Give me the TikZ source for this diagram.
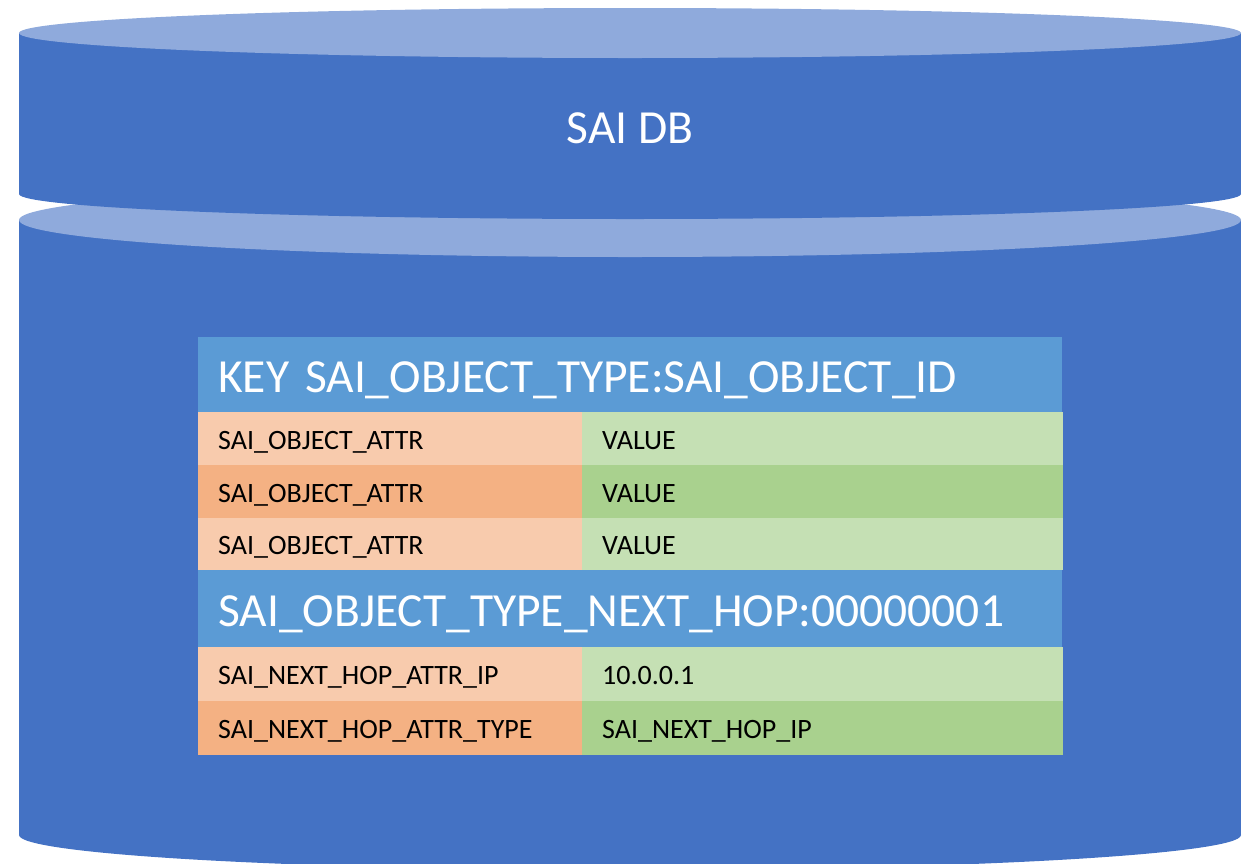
\documentclass[tikz,border=0pt]{standalone}
\usepackage{fontspec}
\setmainfont{Carlito}
\definecolor{cylbody}{HTML}{4472C4}
\definecolor{cyltop}{HTML}{8FAADC}
\definecolor{hdrblue}{HTML}{5B9BD5}
\definecolor{orlight}{HTML}{F8CBAD}
\definecolor{ordark}{HTML}{F4B183}
\definecolor{grlight}{HTML}{C5E0B4}
\definecolor{grdark}{HTML}{A9D18E}
\begin{document}
\begin{tikzpicture}[x=1pt,y=-1pt,
  cell/.style={anchor=north west, inner ysep=0pt, inner xsep=20pt, align=left, font=\fontsize{28}{32}\selectfont, text=black, text height=21pt, text depth=0pt},
  keycell/.style={cell, text width=344pt, minimum width=384pt, minimum height=53pt},
  valcell/.style={cell, text width=441pt, minimum width=481pt, minimum height=53pt},
  hdrcell/.style={cell, fill=hdrblue, text=white, text width=824pt, minimum width=864pt, font=\fontsize{47.5}{52}\selectfont, text height=34.6pt, text depth=0pt}
]
\useasboundingbox (0,0) rectangle (1253,863);
\clip (0,0) rectangle (1253,863);
% lower cylinder
\fill[cylbody] (19,220) rectangle (1241,835);
\fill[cylbody] (630,835) ellipse [x radius=611, y radius=35];
\fill[cyltop] (630,220) ellipse [x radius=611, y radius=37];
% upper cylinder
\fill[cylbody] (19,33) rectangle (1241,194);
\fill[cylbody] (630,194) ellipse [x radius=611, y radius=25];
\fill[cyltop] (630,33) ellipse [x radius=611, y radius=25];
\node[text=white, font=\fontsize{47.5}{52}\selectfont] (title) at (630,128) {SAI DB};
% table
\node[hdrcell, minimum height=75pt] (h1) at (198,337) {KEY SAI\_OBJECT\_TYPE:SAI\_OBJECT\_ID};
\node[keycell, fill=orlight] (k1) at (198,412) {SAI\_OBJECT\_ATTR};
\node[valcell, fill=grlight] (v1) at (582,412) {VALUE};
\node[keycell, fill=ordark] (k2) at (198,465) {SAI\_OBJECT\_ATTR};
\node[valcell, fill=grdark] (v2) at (582,465) {VALUE};
\node[keycell, fill=orlight, minimum height=52pt] (k3) at (198,518) {SAI\_OBJECT\_ATTR};
\node[valcell, fill=grlight, minimum height=52pt] (v3) at (582,518) {VALUE};
\node[hdrcell, minimum height=77pt] (h2) at (198,570) {SAI\_OBJECT\_TYPE\_NEXT\_HOP:00000001};
\node[keycell, fill=orlight, minimum height=54pt] (k4) at (198,647) {SAI\_NEXT\_HOP\_ATTR\_IP};
\node[valcell, fill=grlight, minimum height=54pt] (v4) at (582,647) {10.0.0.1};
\node[keycell, fill=ordark, minimum height=54pt] (k5) at (198,701) {SAI\_NEXT\_HOP\_ATTR\_TYPE};
\node[valcell, fill=grdark, minimum height=54pt] (v5) at (582,701) {SAI\_NEXT\_HOP\_IP};
\end{tikzpicture}
\end{document}
